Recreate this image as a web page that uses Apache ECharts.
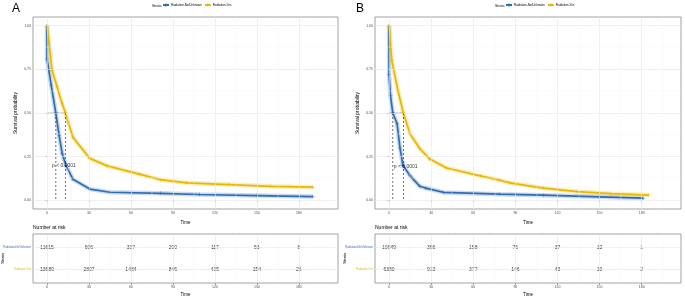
<!DOCTYPE html>
<html><head><meta charset="utf-8">
<script src="https://cdn.jsdelivr.net/npm/echarts@6/dist/echarts.min.js"></script>
<style>html,body{margin:0;padding:0;background:#fff}#c{width:685px;height:297px}</style>
</head><body><div id="c"></div>
<script>
const FONT = '"Liberation Sans Narrow","Liberation Sans",Arial,sans-serif';
const strata = ['Radiation-No/Unknown', 'Radiation-Yes'];
const colors = ['#2F6DB5', '#E7B800'];
const xTicks = [0, 30, 60, 90, 120, 150, 180];
const yTicks = [0, 0.25, 0.5, 0.75, 1];

// Panel A survival curves
const timeA_no  = [0, 0, 3, 6.3, 8.7, 10.8, 13.5, 18.6, 30.6, 45, 81, 109, 150, 190];
const survA_no  = [1, 0.81, 0.66, 0.5, 0.37, 0.27, 0.2, 0.12, 0.064, 0.046, 0.04, 0.033, 0.027, 0.021];
const timeA_yes = [0, 1.5, 3.6, 7.2, 10.8, 13.2, 15, 18.6, 30.6, 43, 66, 81, 100, 130, 160, 190];
const survA_yes = [1, 0.9, 0.745, 0.65, 0.555, 0.5, 0.45, 0.36, 0.24, 0.197, 0.15, 0.118, 0.1, 0.09, 0.08, 0.075];
// Panel B survival curves
const timeB_no  = [0, 0, 1, 2.7, 5.7, 7.8, 9.9, 15, 22, 26, 39, 79, 110, 150, 181];
const survB_no  = [1, 0.72, 0.6, 0.5, 0.44, 0.3, 0.2, 0.14, 0.08, 0.07, 0.045, 0.035, 0.029, 0.02, 0.012];
const timeB_yes = [0, 2, 6.3, 10.2, 15, 22, 29, 41, 65, 79, 86, 110, 134, 158, 185];
const survB_yes = [1, 0.8, 0.63, 0.5, 0.38, 0.295, 0.237, 0.185, 0.14, 0.115, 0.1, 0.07, 0.05, 0.038, 0.03];

// Medians [No/Unknown, Yes]
const medA = [6.3, 13.2];
const medB = [2.7, 10.2];
const pText = 'p < 0.0001';
const pPosA = [3.6, 0.2];
const pPosB = [3.4, 0.19];

// Number at risk
const riskTimes = [0, 30, 60, 90, 120, 150, 180];
const riskA_no  = [11615, 606, 337, 200, 117, 53, 8];
const riskA_yes = [13680, 2807, 1484, 846, 435, 154, 26];
const riskB_no  = [10949, 366, 158, 76, 37, 12, 1];
const riskB_yes = [6380, 913, 377, 146, 43, 10, 2];

const zip = (a, b) => a.map((v, i) => [v, b[i]]);
const mid = arr => arr.slice(0, -1).map((v, i) => (v + arr[i + 1]) / 2).concat([arr[arr.length - 1] + (arr[1] - arr[0]) / 2]);

const txt = (s, extra) => Object.assign({ fontFamily: FONT, color: '#4D4D4D', fontSize: 3.5 }, extra || {});

const grids = [
  { left: 33, top: 17, width: 305, height: 192 },
  { left: 375, top: 17, width: 306, height: 192 },
  { left: 33, top: 234, width: 305, height: 49 },
  { left: 375, top: 234, width: 306, height: 49 }
].map(g => Object.assign(g, { show: true, borderColor: '#8C8C8C', borderWidth: 0.8, backgroundColor: '#fff',
  containLabel: false, outerBoundsMode: 'none' }));

function xAxis(gi, gap) {
  return {
    type: 'value', gridIndex: gi, min: -10, max: 208,
    axisLine: { show: false },
    axisTick: { show: true, customValues: xTicks, length: 2, lineStyle: { color: '#555', width: 0.5 } },
    axisLabel: { customValues: xTicks, margin: 2, ...txt() },
    splitLine: { show: false },
    name: 'Time', nameLocation: 'middle', nameGap: gap,
    nameTextStyle: txt(null, { fontSize: 4.5, color: '#000' })
  };
}
function yAxisPlot(gi) {
  return {
    type: 'value', gridIndex: gi, min: -0.05, max: 1.05,
    axisLine: { show: false },
    axisTick: { show: true, customValues: yTicks, length: 2, lineStyle: { color: '#555', width: 0.5 } },
    axisLabel: { customValues: yTicks, margin: 2, formatter: v => v.toFixed(2), ...txt() },
    splitLine: { show: false },
    name: 'Survival probability', nameLocation: 'middle', nameGap: 15, nameRotate: 90,
    nameTextStyle: txt(null, { fontSize: 5, color: '#000' })
  };
}
function yAxisTable(gi) {
  return {
    type: 'value', gridIndex: gi, min: 0.4, max: 2.6, inverse: true,
    axisLine: { show: false },
    axisTick: { show: true, customValues: [1, 2], length: 2, lineStyle: { color: '#555', width: 0.5 } },
    axisLabel: {
      customValues: [1, 2], margin: 2,
      formatter: v => v === 1 ? '{a|' + strata[0] + '}' : '{b|' + strata[1] + '}',
      rich: { a: txt(null, { color: colors[0], fontSize: 2.7 }), b: txt(null, { color: colors[1], fontSize: 2.7 }) }
    },
    splitLine: { show: false }
  };
}

function gridLines(gi, isTable) {
  const major = { color: '#E6E6E6', width: 0.6, type: 'solid' };
  const minor = { color: '#F3F3F3', width: 0.4, type: 'solid' };
  const data = [];
  xTicks.forEach(v => data.push({ xAxis: v, lineStyle: major }));
  mid(xTicks).forEach(v => data.push({ xAxis: v, lineStyle: minor }));
  if (!isTable) {
    yTicks.forEach(v => data.push({ yAxis: v, lineStyle: major }));
    mid(yTicks).slice(0, -1).forEach(v => data.push({ yAxis: v, lineStyle: minor }));
  } else {
    [1, 2].forEach(v => data.push({ yAxis: v, lineStyle: major }));
  }
  return {
    type: 'line', xAxisIndex: gi, yAxisIndex: gi, data: [], silent: true, z: 0,
    markLine: { silent: true, symbol: ['none', 'none'], label: { show: false }, animation: false, data }
  };
}

const plusSym = 'path://M3.4,0h1.2v8h-1.2z M0,3.4h8v1.2h-8z';

function curve(gi, t, s, k) {
  return [
    { type: 'line', name: 'band' + gi + k, xAxisIndex: gi, yAxisIndex: gi, data: zip(t, s),
      symbol: 'none', lineStyle: { color: colors[k], width: 4.5, opacity: 0.25 }, silent: true, z: 2 },
    { type: 'line', name: strata[k], xAxisIndex: gi, yAxisIndex: gi, data: zip(t, s),
      symbol: plusSym, symbolSize: 3.5, showAllSymbol: true,
      itemStyle: { color: colors[k] }, lineStyle: { color: colors[k], width: 1.7 }, z: 3 }
  ];
}

function medianLines(gi, med) {
  const st = { color: '#333', width: 0.7 };
  return [
    { type: 'line', xAxisIndex: gi, yAxisIndex: gi, data: [[0, 0.5], [Math.max(...med), 0.5]], symbol: 'none',
      lineStyle: Object.assign({ type: 'dotted' }, st), silent: true, z: 4 },
    ...med.map(m => ({ type: 'line', xAxisIndex: gi, yAxisIndex: gi, data: [[m, 0.5], [m, 0]], symbol: 'none',
      lineStyle: Object.assign({ type: [2, 2] }, st), silent: true, z: 4 }))
  ];
}

function pLabel(gi, pos) {
  return { type: 'scatter', xAxisIndex: gi, yAxisIndex: gi, data: [pos], symbolSize: 0.1,
    itemStyle: { color: 'transparent' }, silent: true, z: 5,
    label: { show: true, position: 'right', distance: 0, formatter: pText, ...txt(null, { fontSize: 5, color: '#000' }) } };
}

function riskSeries(gi, arr, row) {
  return { type: 'scatter', xAxisIndex: gi, yAxisIndex: gi, data: riskTimes.map((t, i) => [t, row, arr[i]]),
    symbolSize: 0.1, itemStyle: { color: 'transparent' }, silent: true,
    label: { show: true, position: 'inside', formatter: p => String(p.value[2]), ...txt(null, { fontSize: 5, color: '#000' }) } };
}

function legend(left) {
  return { data: strata, left: left, top: 3, padding: 0, itemWidth: 6, itemHeight: 5, itemGap: 2, selectedMode: false,
    textStyle: txt(null, { fontSize: 3, color: '#000', padding: [0, 0, 0, -3] }) };
}

const rotTxt = (x, y, s) => ({ type: 'text', x: x, y: y, rotation: Math.PI / 2,
  style: { text: s, fontSize: 4, fontFamily: FONT, fill: '#000', align: 'center', verticalAlign: 'middle' } });

const option = {
  animation: false,
  backgroundColor: '#fff',
  grid: grids,
  xAxis: [xAxis(0, 7), xAxis(1, 7), xAxis(2, 9), xAxis(3, 9)],
  yAxis: [yAxisPlot(0), yAxisPlot(1), yAxisTable(2), yAxisTable(3)],
  legend: [legend(162), legend(505)],
  graphic: [
    { type: 'text', left: 12, top: 3, style: { text: 'A', fontSize: 12, fontFamily: 'Liberation Sans, Arial', fill: '#000' } },
    { type: 'text', left: 356, top: 3, style: { text: 'B', fontSize: 12, fontFamily: 'Liberation Sans, Arial', fill: '#000' } },
    { type: 'text', left: 152, top: 4, style: { text: 'Strata', fontSize: 3.5, fontFamily: FONT, fill: '#000' } },
    { type: 'text', left: 495, top: 4, style: { text: 'Strata', fontSize: 3.5, fontFamily: FONT, fill: '#000' } },
    { type: 'text', left: 33, top: 225, style: { text: 'Number at risk', fontSize: 5, fontFamily: FONT, fill: '#000' } },
    { type: 'text', left: 375, top: 225, style: { text: 'Number at risk', fontSize: 5, fontFamily: FONT, fill: '#000' } },
    rotTxt(2.5, 258.5, 'Strata'),
    rotTxt(345, 258.5, 'Strata')
  ],
  series: [
    gridLines(0, false), gridLines(1, false), gridLines(2, true), gridLines(3, true),
    ...curve(0, timeA_no, survA_no, 0), ...curve(0, timeA_yes, survA_yes, 1),
    ...curve(1, timeB_no, survB_no, 0), ...curve(1, timeB_yes, survB_yes, 1),
    ...medianLines(0, medA), ...medianLines(1, medB),
    pLabel(0, pPosA), pLabel(1, pPosB),
    riskSeries(2, riskA_no, 1), riskSeries(2, riskA_yes, 2),
    riskSeries(3, riskB_no, 1), riskSeries(3, riskB_yes, 2)
  ]
};

const chart = echarts.init(document.getElementById('c'), null, { renderer: 'canvas' });
chart.setOption(option);
</script>
</body></html>
